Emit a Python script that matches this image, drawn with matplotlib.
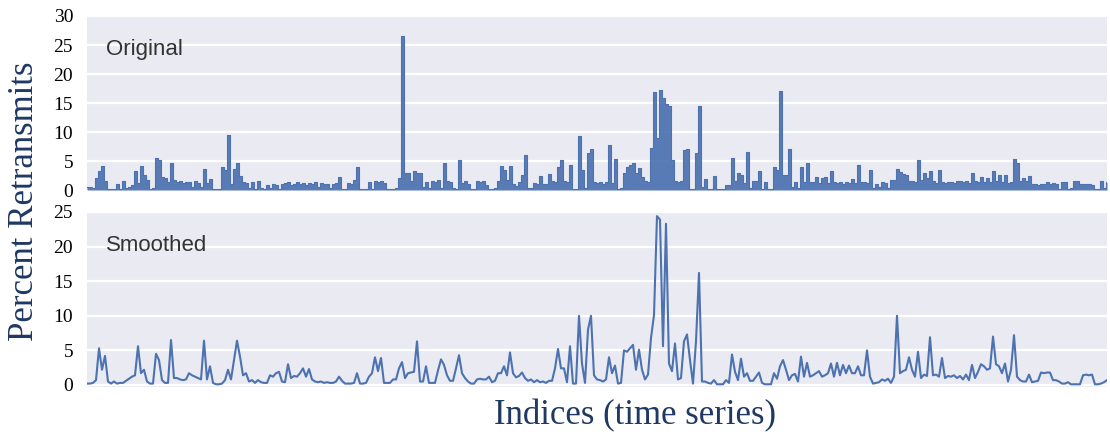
import matplotlib
matplotlib.use("Agg")
import matplotlib.pyplot as plt
import numpy as np

# percent retransmits, one sample every ~3 px of the original plot
original = [
    0.5, 0.5, 0.3, 2.0, 3.2, 4.2, 1.5, 0.1, 0.1, 0.1, 1.0, 0.2, 1.5, 0.3, 0.6, 0.8, 3.2, 1.2, 4.2, 2.6,
    1.7, 0.2, 0.3, 5.6, 5.2, 2.3, 2.0, 1.4, 4.6, 1.7, 1.3, 1.5, 1.2, 1.4, 1.3, 0.5, 1.5, 1.2, 0.6, 3.7,
    1.2, 1.9, 0.2, 0.1, 0.2, 4.0, 3.5, 9.5, 1.0, 3.6, 4.6, 2.4, 1.4, 1.2, 0.3, 1.4, 0.2, 1.5, 0.3, 0.2,
    0.9, 0.3, 1.0, 0.9, 0.2, 1.0, 1.2, 1.3, 0.9, 1.1, 1.3, 1.0, 1.2, 0.9, 1.2, 1.0, 1.3, 0.5, 1.2, 1.0,
    1.1, 0.3, 1.0, 1.2, 2.3, 0.1, 0.1, 1.2, 1.0, 1.7, 4.0, 0.2, 0.2, 0.2, 1.4, 0.1, 1.5, 1.3, 1.5, 1.2,
    0.2, 0.1, 0.2, 0.3, 2.0, 26.5, 3.0, 2.9, 1.5, 3.3, 3.0, 2.9, 0.5, 1.3, 0.3, 1.5, 1.4, 1.7, 0.3, 4.6,
    1.5, 1.4, 0.3, 0.2, 5.2, 1.2, 1.5, 1.1, 0.1, 0.1, 1.5, 1.3, 1.5, 0.8, 0.2, 0.2, 0.3, 1.5, 4.1, 3.5,
    1.7, 4.1, 1.0, 0.7, 1.3, 2.6, 6.0, 0.3, 0.3, 1.2, 1.1, 2.4, 1.0, 1.0, 2.7, 1.5, 1.4, 4.0, 5.1, 1.5,
    1.3, 4.3, 0.1, 0.1, 9.3, 3.5, 0.4, 6.4, 7.1, 1.3, 1.2, 1.4, 1.1, 1.3, 7.7, 1.2, 5.3, 0.2, 0.3, 2.9,
    4.0, 4.3, 4.6, 3.0, 3.8, 2.3, 1.5, 1.4, 7.3, 16.9, 9.0, 17.2, 15.8, 14.8, 14.5, 5.2, 1.5, 1.4, 1.6, 6.9,
    7.1, 0.2, 0.2, 6.3, 14.4, 0.5, 1.9, 0.1, 0.1, 2.4, 0.1, 0.1, 0.1, 0.8, 0.8, 5.5, 1.5, 3.0, 2.6, 1.2,
    6.5, 0.3, 1.5, 1.5, 3.3, 0.1, 1.4, 0.1, 0.1, 4.0, 3.4, 17.1, 2.6, 2.6, 7.1, 0.5, 1.3, 0.4, 3.9, 1.3,
    4.6, 1.3, 1.4, 2.3, 1.2, 2.0, 2.3, 1.2, 3.3, 1.3, 1.2, 1.3, 1.1, 1.3, 1.2, 1.9, 1.2, 4.3, 1.4, 1.4,
    1.2, 3.4, 0.3, 1.0, 0.5, 1.3, 1.2, 0.3, 1.7, 1.7, 3.6, 3.1, 2.8, 2.6, 1.5, 1.5, 1.4, 5.1, 1.7, 2.9,
    2.0, 3.3, 1.5, 1.2, 3.4, 1.3, 1.2, 1.4, 1.3, 1.2, 1.5, 1.5, 1.3, 1.5, 1.2, 3.0, 1.5, 1.3, 2.3, 1.4,
    2.0, 1.3, 3.3, 1.5, 2.6, 1.3, 2.6, 1.2, 1.3, 5.3, 4.6, 1.5, 2.0, 1.6, 2.4, 1.0, 1.1, 0.9, 1.0, 1.0,
    1.4, 1.0, 1.2, 1.0, 0.1, 1.4, 1.3, 0.2, 0.3, 1.6, 1.5, 1.1, 1.0, 1.1, 1.0, 0.9, 0.1, 0.1, 1.6, 0.3, 1.3,
]

smoothed = [
    0.2, 0.2, 0.3, 0.7, 5.3, 2.2, 4.2, 0.5, 0.2, 0.5, 0.2, 0.3, 0.3, 0.6, 0.9, 1.2, 1.4, 5.6, 1.7, 2.2,
    0.5, 0.2, 0.2, 4.5, 3.6, 0.7, 0.3, 0.3, 6.5, 1.0, 1.0, 0.8, 0.7, 0.8, 1.7, 1.4, 1.2, 1.0, 0.8, 6.4,
    0.8, 2.7, 0.3, 0.1, 0.1, 0.2, 0.7, 2.2, 0.8, 3.6, 6.4, 4.1, 1.4, 1.7, 0.5, 0.7, 0.3, 0.7, 0.4, 0.3,
    0.3, 1.4, 1.2, 1.7, 1.9, 0.5, 0.4, 3.0, 1.0, 1.3, 1.2, 1.7, 2.4, 1.2, 2.3, 0.8, 0.5, 0.4, 0.5, 0.3,
    0.4, 0.3, 0.3, 0.5, 1.2, 0.6, 0.2, 0.2, 0.2, 0.3, 1.7, 0.2, 0.2, 0.3, 1.2, 1.7, 4.0, 2.0, 3.9, 0.3,
    0.3, 0.3, 0.8, 0.8, 2.4, 3.3, 1.0, 1.7, 1.8, 1.9, 6.3, 0.5, 0.5, 2.7, 0.3, 0.3, 0.3, 2.1, 3.7, 2.9,
    1.4, 0.6, 0.6, 2.4, 4.3, 1.7, 1.0, 0.5, 0.2, 0.2, 0.8, 0.9, 0.8, 0.8, 1.2, 0.4, 0.6, 1.7, 1.7, 2.7,
    1.4, 4.7, 1.7, 1.1, 1.3, 1.8, 1.0, 0.6, 0.8, 0.4, 0.7, 0.4, 0.5, 0.3, 0.6, 0.6, 2.4, 5.2, 2.4, 2.4,
    0.4, 5.6, 0.2, 0.2, 10.0, 3.1, 0.3, 8.0, 10.0, 1.4, 0.8, 0.7, 0.5, 0.8, 4.0, 1.7, 2.8, 0.2, 0.3, 5.0,
    4.8, 5.3, 5.8, 2.2, 5.1, 2.2, 0.8, 1.5, 6.8, 10.1, 24.4, 23.9, 5.6, 23.3, 3.1, 2.0, 6.0, 0.8, 1.0, 6.3,
    7.3, 3.6, 0.2, 6.3, 16.2, 0.5, 0.5, 0.3, 0.2, 0.7, 0.1, 0.1, 0.1, 0.7, 0.3, 4.4, 1.9, 0.7, 3.8, 1.2,
    1.7, 0.6, 0.6, 1.2, 1.8, 0.3, 0.1, 0.1, 0.1, 1.7, 0.9, 2.7, 3.6, 2.2, 0.7, 1.4, 1.6, 0.5, 4.1, 1.2,
    3.2, 1.2, 1.4, 1.7, 2.0, 1.2, 1.4, 1.7, 3.1, 1.2, 3.2, 1.4, 2.9, 1.7, 2.8, 1.7, 1.7, 2.7, 1.4, 1.4,
    5.0, 1.2, 0.2, 0.3, 0.4, 0.8, 0.6, 0.9, 0.3, 1.2, 10.0, 1.7, 2.0, 2.2, 4.0, 2.2, 1.2, 4.8, 1.0, 1.5,
    1.3, 6.9, 1.4, 1.5, 1.2, 3.9, 1.0, 1.3, 1.2, 1.4, 1.0, 1.3, 0.8, 1.5, 0.7, 2.9, 1.0, 1.9, 3.0, 2.7,
    2.2, 2.4, 7.0, 3.0, 2.7, 1.7, 3.1, 0.5, 2.2, 7.2, 1.2, 0.7, 0.5, 0.5, 1.5, 0.4, 0.5, 0.6, 1.8, 1.7,
    1.8, 1.8, 0.7, 0.7, 0.5, 0.2, 0.2, 0.4, 0.1, 0.1, 0.1, 0.1, 1.4, 1.5, 1.4, 1.5, 0.1, 0.1, 0.2, 0.4, 0.7,
]

panel_labels = ["Original", "Smoothed"]
y_limits = [(-0.17, 30), (-0.25, 25)]
y_ticks = [[0, 5, 10, 15, 20, 25, 30], [0, 5, 10, 15, 20, 25]]

line_color = "#4c72b0"
navy = "#1f3864"

fig = plt.figure(figsize=(11.1, 4.38), dpi=100)
ax_top = fig.add_axes([87 / 1110, 247 / 438, 1020 / 1110, 175 / 438])
ax_bot = fig.add_axes([87 / 1110, 51.3 / 438, 1020 / 1110, 174.7 / 438])

idx = np.arange(len(original))

for ax, series, label, ylim, ticks in zip(
    [ax_top, ax_bot], [original, smoothed], panel_labels, y_limits, y_ticks
):
    ax.set_facecolor("#eaeaf2")
    for s in ax.spines.values():
        s.set_visible(False)
    ax.grid(axis="y", color="white", linewidth=1.6)
    ax.set_axisbelow(True)
    ax.set_xlim(0, len(series) - 1)
    ax.set_ylim(*ylim)
    ax.set_yticks(ticks)
    ax.set_xticks([])
    ax.tick_params(axis="y", length=0, pad=10, labelsize=14)
    for t in ax.get_yticklabels():
        t.set_family("Liberation Serif")
    ax.text(0.0186, 0.81, label, transform=ax.transAxes, va="center",
            ha="left", fontsize=16, color="#333333", family="Liberation Sans")

# original series drawn as dense bars, smoothed as a plain line
ax_top.fill_between(idx, original, 0, step="mid", color=line_color,
                    linewidth=0, alpha=0.92)
ax_top.plot(idx, original, color=line_color, linewidth=0.8,
            drawstyle="steps-mid")
ax_bot.plot(idx, smoothed, color=line_color, linewidth=1.5)

fig.text(0.022, 0.541, "Percent Retransmits", rotation=90, va="center",
         ha="center", fontsize=25, color=navy, family="Liberation Serif")
fig.text(0.572, 0.052, "Indices (time series)", va="center", ha="center",
         fontsize=25, color=navy, family="Liberation Serif")

fig.savefig("out.png", dpi=100)
